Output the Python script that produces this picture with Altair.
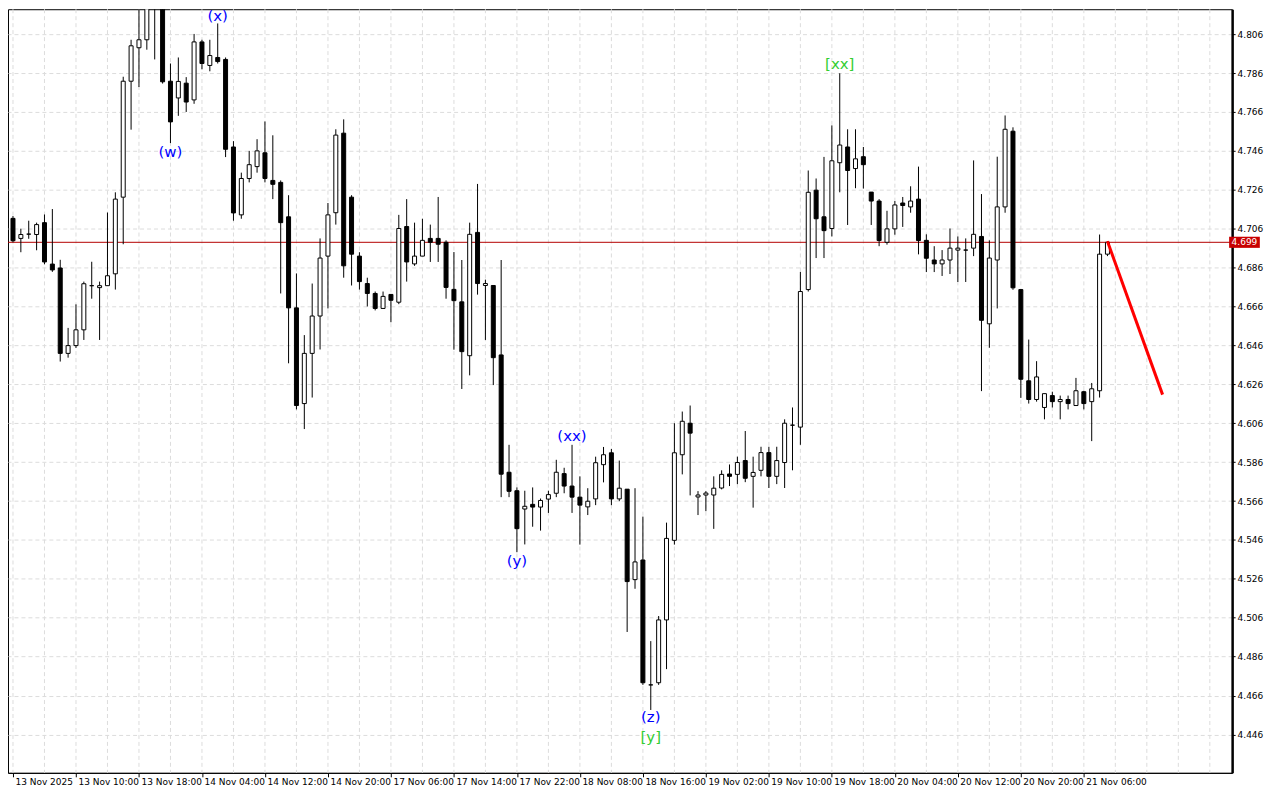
import altair as alt
import pandas as pd

# Hourly candles, index 0 = first bar on the chart
opens = [4.7113, 4.7010, 4.7032, 4.7030, 4.7091, 4.6878, 4.6858, 4.6419, 4.6459, 4.6540,
         4.6767, 4.6757, 4.6767, 4.6828, 4.7222, 4.7818, 4.7990, 4.8031, 4.8340, 4.8280,
         4.7818, 4.7732, 4.7808, 4.7722, 4.8020, 4.7899, 4.7940, 4.7930, 4.7480, 4.7131,
         4.7318, 4.7379, 4.7450, 4.7308, 4.7298, 4.7121, 4.6653, 4.6161, 4.6419, 4.6611,
         4.6919, 4.7142, 4.7551, 4.7222, 4.6919, 4.6778, 4.6727, 4.6650, 4.6722, 4.6682,
         4.7071, 4.6879, 4.6919, 4.7010, 4.7010, 4.6990, 4.6748, 4.6684, 4.6407, 4.7041,
         4.6768, 4.6768, 4.6411, 4.5808, 4.5713, 4.5619, 4.5643, 4.5629, 4.5670, 4.5700,
         4.5801, 4.5737, 4.5680, 4.5630, 4.5671, 4.5847, 4.5908, 4.5671, 4.5721, 4.5256,
         4.5357, 4.4715, 4.4726, 4.5049, 4.5458, 4.5898, 4.6060, 4.5681, 4.5691, 4.5691,
         4.5727, 4.5799, 4.5797, 4.5868, 4.5787, 4.5818, 4.5909, 4.5787, 4.5858, 4.6050,
         4.6040, 4.6747, 4.7258, 4.7121, 4.7061, 4.7399, 4.7480, 4.7369, 4.7430, 4.7248,
         4.7202, 4.6990, 4.7059, 4.7192, 4.7172, 4.7212, 4.7000, 4.6899, 4.6879, 4.6899,
         4.6950, 4.6950, 4.6960, 4.7020, 4.6571, 4.6899, 4.7172, 4.7561, 4.6747, 4.6278,
         4.6182, 4.6141, 4.6202, 4.6171, 4.6182, 4.6151, 4.6222, 4.6171, 4.6227, 4.6929]
highs = [4.7125, 4.7060, 4.7101, 4.7091, 4.7133, 4.7161, 4.6900, 4.6550, 4.6671, 4.6788,
         4.6890, 4.6788, 4.7143, 4.7247, 4.7841, 4.8031, 4.8260, 4.8350, 4.8380, 4.8320,
         4.7909, 4.7940, 4.7839, 4.8061, 4.8031, 4.8031, 4.8115, 4.7940, 4.7510, 4.7348,
         4.7460, 4.7520, 4.7611, 4.7540, 4.7308, 4.7232, 4.6830, 4.6513, 4.6778, 4.7010,
         4.7192, 4.7571, 4.7622, 4.7232, 4.6939, 4.6808, 4.6737, 4.6737, 4.6722, 4.7131,
         4.7212, 4.7091, 4.7111, 4.7081, 4.7223, 4.7000, 4.6940, 4.6899, 4.7091, 4.7290,
         4.6798, 4.6768, 4.6899, 4.5949, 4.5730, 4.5713, 4.5730, 4.5673, 4.5713, 4.5872,
         4.5831, 4.5949, 4.5787, 4.5726, 4.5888, 4.5938, 4.5928, 4.5868, 4.5721, 4.5726,
         4.5580, 4.4940, 4.5069, 4.5549, 4.6060, 4.6120, 4.6151, 4.5711, 4.5711, 4.5787,
         4.5818, 4.5848, 4.5888, 4.6020, 4.5888, 4.5939, 4.5939, 4.5939, 4.6080, 4.6141,
         4.6838, 4.7359, 4.7318, 4.7429, 4.7591, 4.7859, 4.7571, 4.7571, 4.7480, 4.7248,
         4.7212, 4.7152, 4.7202, 4.7223, 4.7278, 4.7379, 4.7031, 4.6970, 4.6950, 4.7061,
         4.7020, 4.7010, 4.7411, 4.7238, 4.7000, 4.7430, 4.7642, 4.7581, 4.6747, 4.6490,
         4.6379, 4.6212, 4.6222, 4.6202, 4.6202, 4.6293, 4.6227, 4.6267, 4.7030, 4.6995]
lows = [4.6990, 4.6939, 4.7008, 4.6949, 4.6877, 4.6838, 4.6377, 4.6397, 4.6447, 4.6488,
        4.6700, 4.6488, 4.6767, 4.6747, 4.6980, 4.7569, 4.7788, 4.7980, 4.7930, 4.7806,
        4.7500, 4.7640, 4.7660, 4.7702, 4.7879, 4.7869, 4.7909, 4.7428, 4.7101, 4.7111,
        4.7298, 4.7348, 4.7298, 4.7212, 4.6727, 4.6368, 4.6131, 4.6030, 4.6192, 4.6439,
        4.6650, 4.7081, 4.6808, 4.6768, 4.6747, 4.6660, 4.6640, 4.6650, 4.6579, 4.6672,
        4.6788, 4.6869, 4.6919, 4.6889, 4.6889, 4.6700, 4.6438, 4.6236, 4.6306, 4.6721,
        4.6488, 4.6256, 4.5680, 4.5680, 4.5397, 4.5437, 4.5528, 4.5508, 4.5599, 4.5680,
        4.5700, 4.5599, 4.5436, 4.5588, 4.5639, 4.5756, 4.5639, 4.5659, 4.4987, 4.5209,
        4.4715, 4.4586, 4.4715, 4.4796, 4.5436, 4.5797, 4.5689, 4.5588, 4.5608, 4.5517,
        4.5720, 4.5737, 4.5747, 4.5757, 4.5626, 4.5787, 4.5727, 4.5747, 4.5727, 4.5818,
        4.5949, 4.6737, 4.6909, 4.6909, 4.7020, 4.7247, 4.7079, 4.7268, 4.7266, 4.7079,
        4.6970, 4.6978, 4.7029, 4.7069, 4.7142, 4.6928, 4.6837, 4.6837, 4.6817, 4.6827,
        4.6786, 4.6786, 4.6919, 4.6225, 4.6448, 4.6650, 4.7142, 4.6746, 4.6190, 4.6161,
        4.6171, 4.6080, 4.6141, 4.6080, 4.6131, 4.6151, 4.6131, 4.5968, 4.6192, 4.6919]
closes = [4.6998, 4.7030, 4.7032, 4.7081, 4.6889, 4.6848, 4.6419, 4.6459, 4.6540, 4.6777,
          4.6767, 4.6767, 4.6818, 4.7212, 4.7818, 4.8000, 4.8031, 4.8300, 4.8260, 4.7815,
          4.7609, 4.7817, 4.7711, 4.8020, 4.7909, 4.7950, 4.7919, 4.7468, 4.7141, 4.7318,
          4.7389, 4.7460, 4.7318, 4.7288, 4.7091, 4.6653, 4.6151, 4.6419, 4.6611, 4.6909,
          4.7131, 4.7541, 4.6869, 4.6929, 4.6788, 4.6727, 4.6650, 4.6712, 4.6692, 4.7061,
          4.6889, 4.6919, 4.7000, 4.6990, 4.6980, 4.6758, 4.6690, 4.6428, 4.7031, 4.6778,
          4.6778, 4.6397, 4.5798, 4.5710, 4.5518, 4.5633, 4.5629, 4.5663, 4.5693, 4.5808,
          4.5737, 4.5680, 4.5639, 4.5659, 4.5857, 4.5898, 4.5671, 4.5726, 4.5246, 4.5347,
          4.4726, 4.4715, 4.5049, 4.5468, 4.5908, 4.6070, 4.6009, 4.5691, 4.5701, 4.5726,
          4.5797, 4.5787, 4.5858, 4.5777, 4.5807, 4.5909, 4.5787, 4.5868, 4.6060, 4.6050,
          4.6737, 4.7247, 4.7111, 4.7050, 4.7409, 4.7490, 4.7359, 4.7419, 4.7389, 4.7202,
          4.6999, 4.7059, 4.7182, 4.7179, 4.7202, 4.6999, 4.6908, 4.6879, 4.6899, 4.6960,
          4.6960, 4.6950, 4.7031, 4.6589, 4.6909, 4.7172, 4.7571, 4.6756, 4.6286, 4.6182,
          4.6298, 4.6212, 4.6171, 4.6182, 4.6161, 4.6227, 4.6161, 4.6237, 4.6929, 4.6990]

time_labels = ["13 Nov 2025", "13 Nov 10:00", "13 Nov 18:00", "14 Nov 04:00", "14 Nov 12:00",
               "14 Nov 20:00", "17 Nov 06:00", "17 Nov 14:00", "17 Nov 22:00", "18 Nov 08:00",
               "18 Nov 16:00", "19 Nov 02:00", "19 Nov 10:00", "19 Nov 18:00", "20 Nov 04:00",
               "20 Nov 12:00", "20 Nov 20:00", "21 Nov 06:00"]
label_bars = [0, 8, 16, 24, 32, 40, 48, 56, 64, 72, 80, 88, 96, 104, 112, 120, 128, 136]
grid_bars = [0, 4, 8, 12, 16, 20, 24, 28, 32, 36, 40, 44, 48, 52, 56, 60, 64, 68, 72, 76,
             80, 84, 88, 92, 96, 100, 104, 108, 112, 116, 120, 124, 128, 132, 136, 140, 144,
             148, 152]
price_ticks = [4.446, 4.466, 4.486, 4.506, 4.526, 4.546, 4.566, 4.586, 4.606, 4.626,
               4.646, 4.666, 4.686, 4.706, 4.726, 4.746, 4.766, 4.786, 4.806]

blue_text = ["(w)", "(x)", "(xx)", "(y)", "(z)"]
blue_bar = [20, 26, 71, 64, 81]
blue_price = [4.7456, 4.8154, 4.5996, 4.5354, 4.4551]
green_text = ["[y]", "[xx]"]
green_bar = [81, 105]
green_price = [4.4445, 4.7906]

current_price = 4.699
forecast_bar = [139, 146]
forecast_price = [4.6995, 4.6207]

W, H = 1228, 766
X_DOM = [0, 154.2]
Y_DOM = [4.4263, 4.8188]

df = pd.DataFrame({"i": list(range(len(opens))), "o": opens, "h": highs, "l": lows, "c": closes})

label_expr = "[" + ",".join("'" + s + "'" for s in time_labels) + "][round(datum.value / 8)]"

x_axis = alt.Axis(values=label_bars, labelExpr=label_expr, grid=False, title=None,
                  labelAlign="left", labelOffset=2, tickSize=4, tickColor="black",
                  domainColor="black", labelFont="DejaVu Sans", labelFontSize=9,
                  labelColor="black", labelPadding=1, labelFlush=False, labelOverlap=False)
y_axis = alt.Axis(values=price_ticks, format=".3f", orient="right", title=None, grid=True,
                  gridColor="#dcdcdc", gridDash=[4, 3], gridWidth=1, domainColor="black",
                  domainWidth=2.5, tickColor="black", tickSize=3, labelFont="DejaVu Sans",
                  labelFontSize=9, labelColor="black", labelPadding=2, labelFlush=False,
                  labelOverlap=False)
xs = alt.Scale(domain=X_DOM, nice=False, zero=False)
ys = alt.Scale(domain=Y_DOM, nice=False, zero=False)


def X(field):
    return alt.X(field, type="quantitative", scale=xs, axis=x_axis)


def Y(field):
    return alt.Y(field, type="quantitative", scale=ys, axis=y_axis)


vgrid = alt.Chart(pd.DataFrame({"g": grid_bars})).mark_rule(
    color="#dcdcdc", strokeDash=[4, 3], strokeWidth=1
).encode(x=X("g"))

price_line = alt.Chart(pd.DataFrame({"p": [current_price]})).mark_rule(
    color="#b40000", strokeWidth=1
).encode(y=Y("p"))

wicks = alt.Chart(df).mark_rule(color="black", strokeWidth=1, clip=True).encode(
    x=X("i"), y=Y("l"), y2="h:Q"
)

bodies = alt.Chart(df).mark_bar(size=4, stroke="black", strokeWidth=1, clip=True).encode(
    x=X("i"), y=Y("o"), y2="c:Q",
    fill=alt.condition("datum.c >= datum.o", alt.value("white"), alt.value("black")),
)

forecast = alt.Chart(pd.DataFrame({"i": forecast_bar, "p": forecast_price})).mark_line(
    color="#ff0000", strokeWidth=3
).encode(x=X("i"), y=Y("p"))

blue_labels = alt.Chart(pd.DataFrame({"i": blue_bar, "p": blue_price, "t": blue_text})).mark_text(
    color="#0000ff", font="DejaVu Sans", fontSize=15, baseline="middle", align="center"
).encode(x=X("i"), y=Y("p"), text="t:N")

green_labels = alt.Chart(pd.DataFrame({"i": green_bar, "p": green_price, "t": green_text})).mark_text(
    color="#32cd32", font="DejaVu Sans", fontSize=15, baseline="middle", align="center"
).encode(x=X("i"), y=Y("p"), text="t:N")

tag_df = pd.DataFrame({"x1": [154.45], "x2": [158.35], "xm": [156.4],
                       "p": [current_price], "t": [f"{current_price:.3f}"]})
tag_df["y1"] = tag_df["p"] - 0.00286
tag_df["y2"] = tag_df["p"] + 0.00286
tag_rect = alt.Chart(tag_df).mark_rect(color="#c80000", clip=False).encode(
    x=X("x1"), x2="x2:Q", y=Y("y1"), y2="y2:Q"
)
tag_text = alt.Chart(tag_df).mark_text(
    color="white", font="DejaVu Sans", fontSize=9, baseline="middle", align="center", clip=False
).encode(x=X("xm"), y=Y("p"), text="t:N")

chart = alt.layer(
    vgrid, price_line, wicks, bodies, forecast, blue_labels, green_labels, tag_rect, tag_text
).properties(
    width=W, height=H,
    padding={"left": 0, "top": 0, "right": 40, "bottom": 17},
    autosize=alt.AutoSizeParams(type="none"),
    background="white",
).configure_view(stroke="black", strokeWidth=1, fill="white")

chart.save("out.html", embed_options={"renderer": "svg", "actions": False})
